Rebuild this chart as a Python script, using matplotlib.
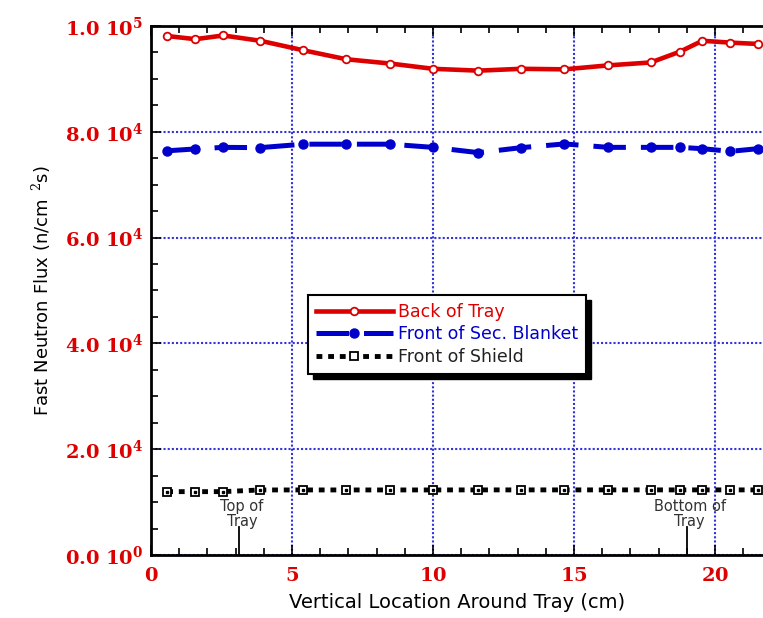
import matplotlib
matplotlib.use("Agg")
import matplotlib.pyplot as plt
from matplotlib.patches import Rectangle
from matplotlib.transforms import IdentityTransform
from matplotlib.ticker import MultipleLocator, FixedLocator

# ---- data ----
x_loc = [0.57, 1.57, 2.56, 3.87, 5.40, 6.93, 8.47, 10.0, 11.61, 13.13,
         14.66, 16.22, 17.72, 18.76, 19.55, 20.54, 21.52]
back_of_tray = [98100, 97500, 98200, 97200, 95400, 93700, 92900, 91900, 91550,
                91900, 91800, 92550, 93100, 95150, 97200, 96850, 96600]
front_sec_blanket = [76400, 76750, 77050, 77000, 77650, 77650, 77650, 77050, 76050,
                     77000, 77700, 77050, 77050, 77050, 76800, 76300, 76800]
front_shield = [11970, 11970, 11970, 12290, 12290, 12290, 12290, 12290, 12300,
                12300, 12300, 12300, 12300, 12300, 12300, 12300, 12300]

series_names = ["Back of Tray", "Front of Sec. Blanket", "Front of Shield"]
y_ticks = [0, 20000, 40000, 60000, 80000, 100000]
y_tick_labels = [r"$\mathbf{0.0\ 10^{0}}$", r"$\mathbf{2.0\ 10^{4}}$", r"$\mathbf{4.0\ 10^{4}}$",
                 r"$\mathbf{6.0\ 10^{4}}$", r"$\mathbf{8.0\ 10^{4}}$", r"$\mathbf{1.0\ 10^{5}}$"]
x_ticks = [0, 5, 10, 15, 20]
x_tick_labels = [r"$\mathbf{0}$", r"$\mathbf{5}$", r"$\mathbf{10}$", r"$\mathbf{15}$", r"$\mathbf{20}$"]
annot_x = [3.12, 19.0]
annot_text = ["Top of\nTray", "Bottom of\nTray"]

plt.rcParams["mathtext.fontset"] = "dejavuserif"
plt.rcParams["font.family"] = ["DejaVu Sans"]

fig = plt.figure(figsize=(7.63, 6.18), dpi=100)
ax = fig.add_axes([0.198, 0.102, 0.802, 0.856])

RED = "#dd0000"
BLUE = "#0000cc"

ax.plot(x_loc, back_of_tray, color=RED, lw=3.3, marker="o", ms=5.5,
        mfc="white", mec=RED, mew=1.3, label=series_names[0], zorder=4)
ax.plot(x_loc, front_sec_blanket, color=BLUE, lw=3.6, dashes=(6.5, 3.0),
        marker="o", ms=6.5, mfc=BLUE, mec=BLUE, label=series_names[1], zorder=4)
ax.plot(x_loc, front_shield, color="black", lw=3.5, dashes=(1.2, 1.2),
        marker="s", ms=5.5, mfc="white", mec="black", mew=1.3,
        label=series_names[2], zorder=4)
ax.plot(x_loc, front_shield, ls="none", marker="s", ms=1.6, mfc="black",
        mec="black", zorder=5)

ax.set_xlim(0, 21.7)
ax.set_ylim(0, 100000)

ax.xaxis.set_major_locator(FixedLocator(x_ticks))
ax.xaxis.set_minor_locator(MultipleLocator(1))
ax.yaxis.set_major_locator(FixedLocator(y_ticks))
ax.yaxis.set_minor_locator(MultipleLocator(5000))
ax.set_xticklabels(x_tick_labels)
ax.set_yticklabels(y_tick_labels)
ax.tick_params(axis="both", which="both", direction="in", top=True, right=False,
               colors="black", labelcolor=RED, labelsize=14)
ax.tick_params(axis="both", which="major", length=7, width=1.2)
ax.tick_params(axis="both", which="minor", length=5, width=1.2)
ax.tick_params(axis="x", pad=8)
ax.tick_params(axis="y", pad=6)

ax.grid(True, which="major", color="#3333dd", ls=(0, (1, 1)), lw=1.5)
ax.set_axisbelow(True)
for s in ["left", "bottom", "top"]:
    ax.spines[s].set_linewidth(2)
ax.spines["right"].set_visible(False)

for xa, txt in zip(annot_x, annot_text):
    ax.plot([xa, xa], [0, 5200], color="black", lw=1.3, zorder=3)
    ax.text(xa + 0.1, 5000, txt, ha="center", va="bottom", fontsize=10.5,
            color="#333333", linespacing=1.0, zorder=3)

ax.set_xlabel("Vertical Location Around Tray (cm)", fontsize=14, labelpad=6)
ax.set_ylabel(r"Fast Neutron Flux (n/cm$^{\ \ 2}$s)", fontsize=13, labelpad=8)

leg = ax.legend(loc="upper left", bbox_to_anchor=(0.257, 0.491), borderaxespad=0,
                fancybox=False, framealpha=1, edgecolor="black", fontsize=12.5,
                handlelength=4.4, handletextpad=0.3, labelspacing=0.25,
                borderpad=0.45)
leg.get_frame().set_linewidth(1.5)
for t, c in zip(leg.get_texts(), [RED, BLUE, "#222222"]):
    t.set_color(c)
leg.set_zorder(10)

fig.canvas.draw()
bb = leg.get_window_extent()
shadow = Rectangle((bb.x0 + 5, bb.y0 - 5), bb.width, bb.height,
                   transform=IdentityTransform(), facecolor="black",
                   edgecolor="black", zorder=9, clip_on=False)
ax.add_artist(shadow)

fig.savefig("out.png", dpi=100)
